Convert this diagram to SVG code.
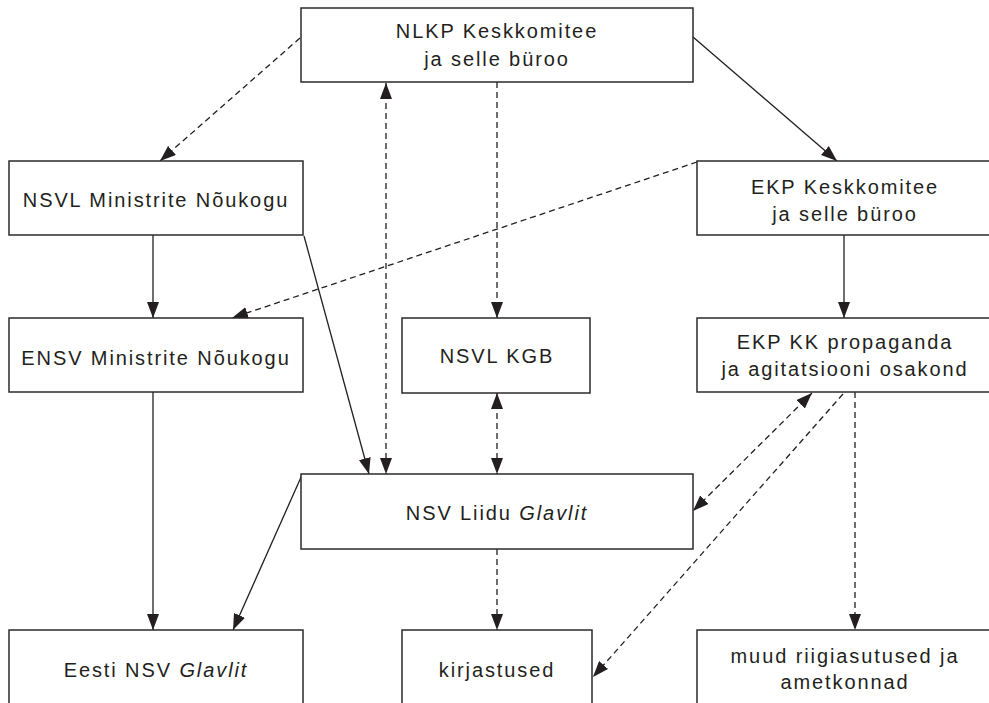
<svg xmlns="http://www.w3.org/2000/svg" width="989" height="703" viewBox="0 0 989 703">
<style>
.box{fill:#fff;stroke:#2b2b2b;stroke-width:1.5}
text{font-family:"Liberation Sans",Arial,sans-serif;font-size:20px;letter-spacing:1.9px;fill:#231f20;text-anchor:middle}
.it{font-style:italic}
.c{fill:none;stroke:#231f20;stroke-width:1.3}
.d{stroke-dasharray:6 4}
</style>
<defs>
<marker id="ah" markerUnits="userSpaceOnUse" markerWidth="16" markerHeight="12" refX="16" refY="6" orient="auto-start-reverse" viewBox="0 0 16 12">
<path d="M0,0 L16,6 L0,12 z" fill="#231f20"/>
</marker>
</defs>
<rect width="989" height="703" fill="#fff"/>
<g id="connectors">
<line class="c d" x1="300" y1="38" x2="160" y2="161" marker-end="url(#ah)"/>
<line class="c" x1="693" y1="37" x2="837" y2="161" marker-end="url(#ah)"/>
<line class="c d" x1="386" y1="83" x2="386" y2="474" marker-start="url(#ah)" marker-end="url(#ah)"/>
<line class="c d" x1="497" y1="82" x2="497" y2="318" marker-end="url(#ah)"/>
<line class="c d" x1="497" y1="393" x2="497" y2="474" marker-start="url(#ah)" marker-end="url(#ah)"/>
<line class="c" x1="304" y1="236" x2="369" y2="474" marker-end="url(#ah)"/>
<line class="c" x1="153" y1="235" x2="153" y2="318" marker-end="url(#ah)"/>
<line class="c d" x1="697" y1="162" x2="232" y2="318" marker-end="url(#ah)"/>
<line class="c" x1="844" y1="235" x2="844" y2="318" marker-end="url(#ah)"/>
<line class="c" x1="153" y1="392" x2="153" y2="630" marker-end="url(#ah)"/>
<line class="c" x1="302" y1="475" x2="233" y2="630" marker-end="url(#ah)"/>
<line class="c d" x1="497" y1="549" x2="497" y2="630" marker-end="url(#ah)"/>
<line class="c d" x1="812" y1="393" x2="693" y2="511" marker-start="url(#ah)" marker-end="url(#ah)"/>
<line class="c d" x1="843" y1="394" x2="593" y2="677" marker-end="url(#ah)"/>
<line class="c d" x1="855" y1="392" x2="855" y2="630" marker-end="url(#ah)"/>
</g>
<g id="nlkp">
<rect class="box" x="301" y="8" width="392" height="74"/>
<text x="497" y="38">NLKP Keskkomitee</text>
<text x="497" y="66">ja selle büroo</text>
</g>
<g id="nsvl-mn">
<rect class="box" x="9" y="161" width="294" height="74"/>
<text x="156" y="207">NSVL Ministrite Nõukogu</text>
</g>
<g id="ekp-kk">
<rect class="box" x="697" y="161" width="296" height="74"/>
<text x="845" y="194">EKP Keskkomitee</text>
<text x="845" y="221">ja selle büroo</text>
</g>
<g id="ensv-mn">
<rect class="box" x="9" y="318" width="294" height="74"/>
<text x="156" y="365">ENSV Ministrite Nõukogu</text>
</g>
<g id="kgb">
<rect class="box" x="402" y="318" width="188" height="75"/>
<text x="497" y="363">NSVL KGB</text>
</g>
<g id="ekp-prop">
<rect class="box" x="697" y="318" width="296" height="74"/>
<text x="845" y="349">EKP KK propaganda</text>
<text x="845" y="376">ja agitatsiooni osakond</text>
</g>
<g id="glavlit">
<rect class="box" x="301" y="474" width="392" height="75"/>
<text x="497" y="520">NSV Liidu <tspan class="it">Glavlit</tspan></text>
</g>
<g id="eesti-glavlit">
<rect class="box" x="9" y="630" width="294" height="90"/>
<text x="156" y="677">Eesti NSV <tspan class="it">Glavlit</tspan></text>
</g>
<g id="kirjastused">
<rect class="box" x="402" y="630" width="190" height="90"/>
<text x="497" y="677">kirjastused</text>
</g>
<g id="muud">
<rect class="box" x="697" y="630" width="296" height="90"/>
<text x="845" y="663">muud riigiasutused ja</text>
<text x="845" y="689">ametkonnad</text>
</g>
</svg>
